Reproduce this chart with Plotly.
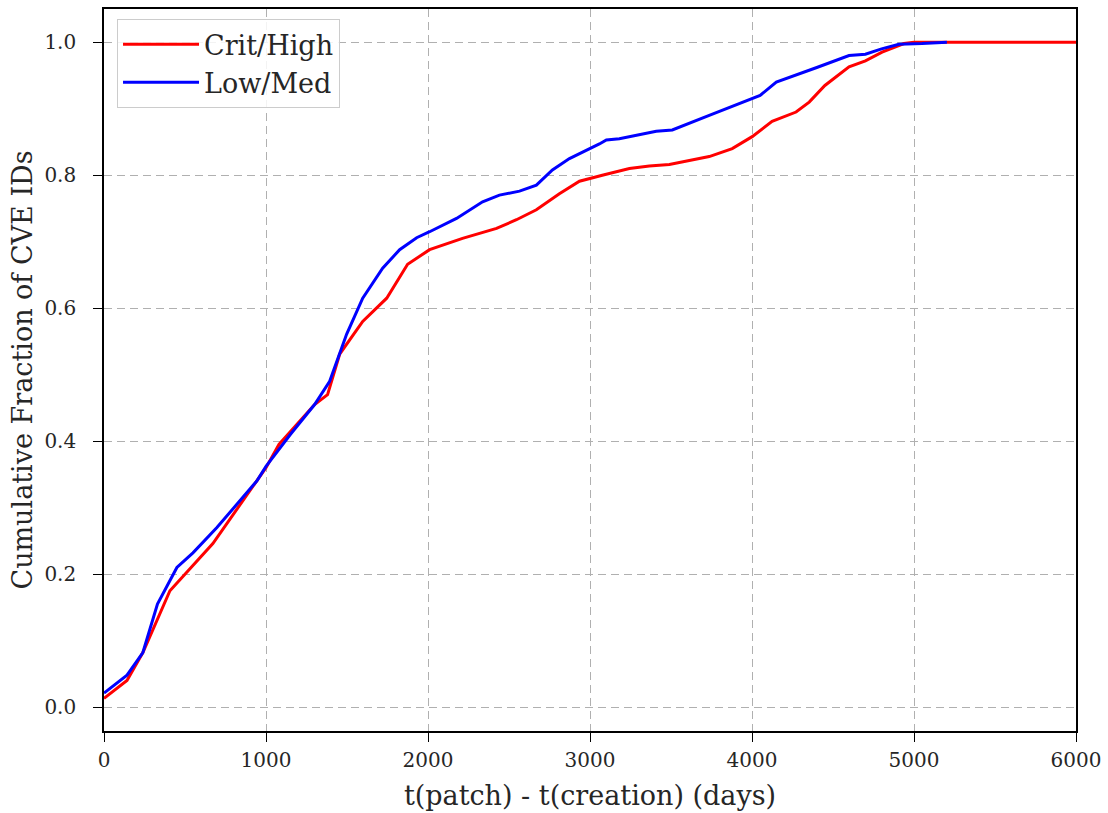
import plotly.graph_objects as go

crit_x = [0, 142, 240, 407, 672, 943, 1000, 1080, 1300, 1380, 1455, 1597, 1745, 1874, 2010, 2213, 2423, 2546, 2669, 2811, 2935, 3076, 3243, 3366, 3490, 3736, 3878, 4001, 4124, 4272, 4353, 4450, 4599, 4700, 4803, 4938, 5000, 6000]
crit_y = [0.013, 0.040, 0.082, 0.175, 0.246, 0.34, 0.36, 0.395, 0.455, 0.47, 0.531, 0.58, 0.615, 0.666, 0.688, 0.705, 0.72, 0.733, 0.748, 0.772, 0.791, 0.80, 0.81, 0.814, 0.816, 0.828, 0.84, 0.858, 0.881, 0.895, 0.91, 0.935, 0.963, 0.972, 0.985, 0.998, 1.0, 1.0]

low_x = [0, 142, 240, 330, 450, 549, 697, 943, 1000, 1150, 1300, 1393, 1498, 1597, 1720, 1825, 1930, 2010, 2176, 2337, 2441, 2565, 2669, 2768, 2873, 2978, 3058, 3101, 3181, 3409, 3508, 3736, 3940, 4050, 4150, 4270, 4400, 4599, 4700, 4800, 4907, 5050, 5203]
low_y = [0.021, 0.048, 0.082, 0.155, 0.21, 0.232, 0.27, 0.34, 0.362, 0.41, 0.455, 0.49, 0.561, 0.615, 0.66, 0.688, 0.706, 0.715, 0.735, 0.760, 0.77, 0.776, 0.785, 0.808, 0.825, 0.837, 0.847, 0.853, 0.855, 0.866, 0.868, 0.89, 0.91, 0.92, 0.94, 0.95, 0.962, 0.98, 0.982, 0.99, 0.997, 0.998, 1.0]

x_ticks = [0, 1000, 2000, 3000, 4000, 5000, 6000]
y_ticks = [0.0, 0.2, 0.4, 0.6, 0.8, 1.0]

FONT = "DejaVu Serif"

fig = go.Figure()
fig.add_trace(go.Scatter(x=crit_x, y=crit_y, mode="lines", name="Crit/High",
                         line=dict(color="#ff0000", width=3)))
fig.add_trace(go.Scatter(x=low_x, y=low_y, mode="lines", name="Low/Med",
                         line=dict(color="#0000ff", width=3)))

axis_common = dict(
    showline=True, linecolor="black", linewidth=1.6, mirror=True,
    ticks="outside", ticklen=9, tickwidth=1.4, tickcolor="black",
    showgrid=True, gridcolor="#b0b0b0", griddash="8px,5px", gridwidth=1.2,
    zeroline=False, tickfont=dict(family=FONT, size=20, color="#262626"),
)

fig.update_layout(
    width=1108, height=813,
    margin=dict(l=104, r=31, t=7, b=82),
    plot_bgcolor="white", paper_bgcolor="white",
    font=dict(family=FONT, color="#262626"),
    xaxis=dict(range=[0, 6000], tickvals=x_ticks, ticktext=[str(v) for v in x_ticks],
               title=dict(text="t(patch) - t(creation) (days)", font=dict(family=FONT, size=27), standoff=15),
               ticklabelstandoff=1, **axis_common),
    yaxis=dict(range=[-0.036, 1.05], tickvals=y_ticks, ticktext=[f"{v:.1f}" for v in y_ticks],
               title=dict(text="Cumulative Fraction of CVE IDs", font=dict(family=FONT, size=27), standoff=4),
               ticklabelstandoff=13, **axis_common),
    legend=dict(x=0.0134, y=0.986, xanchor="left", yanchor="top",
                bgcolor="rgba(255,255,255,0.85)", bordercolor="#cccccc", borderwidth=1,
                font=dict(family=FONT, size=27, color="#262626"), itemwidth=76,
                tracegroupgap=2),
    showlegend=True,
)

fig.write_html("out.html")
